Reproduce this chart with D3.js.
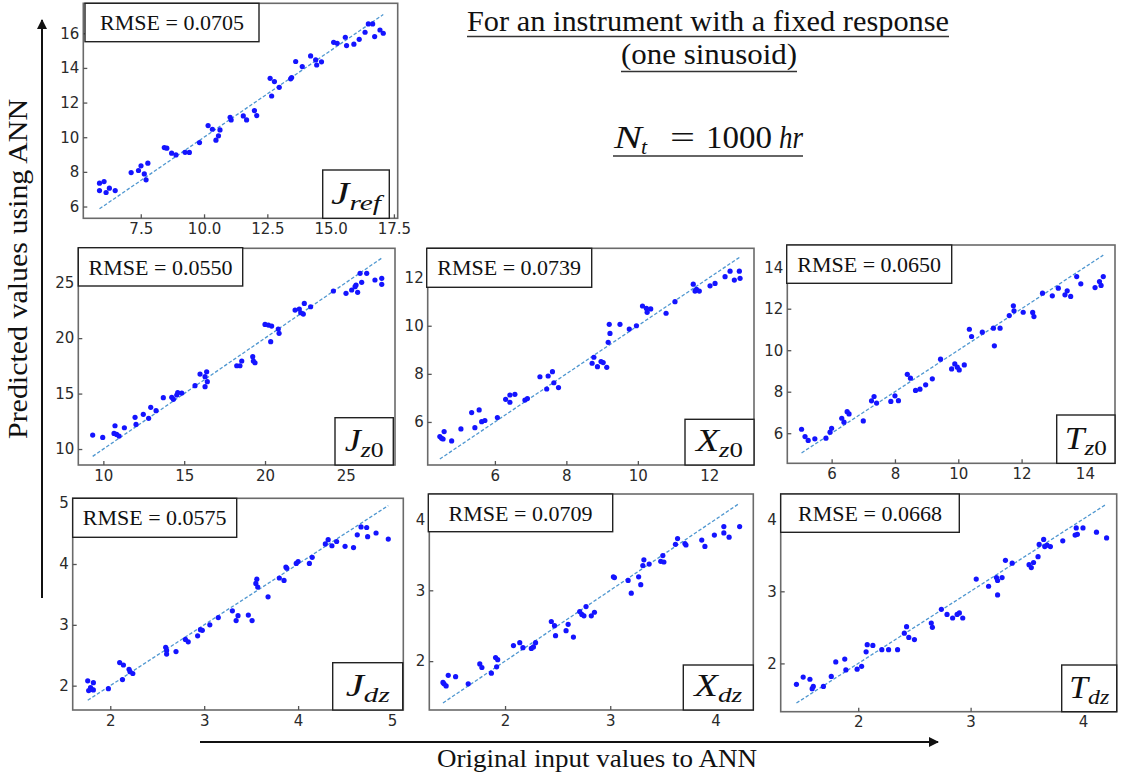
<!DOCTYPE html>
<html><head><meta charset="utf-8">
<script src="https://cdn.jsdelivr.net/npm/d3@7"></script>
<style>body{margin:0;background:#fff} svg{display:block}</style>
</head><body><svg id="c" width="1122" height="779"></svg>
<script>
// ---------- data (original input, predicted) ----------
const jrefPoints = [[5.87,7.35],[5.87,6.92],[6.05,7.44],[6.13,6.81],[6.26,7.06],[6.49,6.92],[7.12,7.96],[7.41,8.08],[7.51,8.35],[7.64,7.88],[7.71,7.54],[7.78,8.5],[8.43,9.4],[8.53,9.37],[8.72,9.08],[8.89,8.98],[9.25,9.13],[9.42,9.12],[9.82,9.69],[10.16,10.67],[10.33,10.46],[10.47,9.83],[10.57,10.08],[10.63,10.42],[11.03,11.15],[11.07,11.0],[11.55,11.23],[11.68,11.0],[11.99,11.54],[12.08,11.25],[12.61,13.4],[12.67,12.38],[12.78,13.21],[12.97,12.88],[13.42,13.37],[13.46,13.44],[13.62,14.37],[13.88,14.08],[14.21,14.69],[14.41,14.46],[14.45,14.17],[14.64,14.35],[15.12,15.48],[15.26,15.42],[15.58,15.77],[15.63,15.29],[15.92,15.37],[16.13,15.65],[16.36,16.06],[16.49,16.54],[16.66,16.54],[16.74,15.81],[16.95,16.19],[17.08,16.0]];
const jz0Points = [[9.34,11.26],[9.96,11.05],[10.72,12.1],[10.66,11.41],[10.82,11.32],[10.97,11.17],[11.3,11.92],[11.96,12.86],[12.02,12.22],[12.47,13.13],[12.8,12.77],[12.93,13.76],[13.26,13.46],[13.71,14.63],[14.23,14.66],[14.33,14.48],[14.54,14.87],[14.6,15.08],[14.85,15.05],[15.67,15.71],[15.98,16.76],[16.29,16.52],[16.39,16.97],[16.43,16.07],[16.29,15.62],[18.25,17.51],[18.45,17.51],[18.56,17.94],[19.24,18.33],[19.28,17.94],[19.38,17.78],[20.0,21.24],[20.21,21.18],[20.41,21.09],[20.35,19.68],[20.82,20.82],[20.87,20.43],[21.86,22.53],[22.12,22.62],[22.21,22.29],[22.37,22.17],[22.43,23.13],[22.82,22.83],[24.23,24.25],[25.01,24.04],[25.36,24.34],[25.57,24.64],[25.63,24.79],[25.73,24.13],[25.88,25.84],[25.98,25.03],[26.29,25.84],[26.8,25.24],[27.22,25.39],[27.22,24.85]];
const xz0Points = [[4.46,5.39],[4.51,5.32],[4.55,5.29],[4.58,5.6],[4.79,5.21],[5.05,5.71],[5.35,6.39],[5.44,5.76],[5.56,6.5],[5.63,6.01],[5.72,6.06],[6.07,6.18],[6.3,6.94],[6.42,6.82],[6.42,7.12],[6.56,7.15],[6.84,6.91],[6.91,6.97],[7.26,7.88],[7.45,7.37],[7.49,7.91],[7.61,8.09],[7.65,7.63],[7.78,7.43],[8.72,8.44],[8.77,8.69],[8.87,8.3],[8.97,8.51],[9.03,8.47],[9.13,8.27],[9.17,9.31],[9.2,10.06],[9.22,9.68],[9.5,10.06],[9.76,9.86],[9.96,10.0],[10.13,10.82],[10.24,10.72],[10.26,10.56],[10.36,10.7],[10.79,10.52],[11.04,11.0],[11.55,11.73],[11.6,11.44],[11.64,11.51],[11.72,11.44],[12.02,11.66],[12.16,11.76],[12.44,12.04],[12.58,12.27],[12.7,11.9],[12.84,12.27],[12.86,11.97]];
const tz0Points = [[5.05,6.19],[5.16,5.84],[5.26,5.65],[5.47,5.73],[5.82,5.76],[5.95,6.05],[6.0,6.24],[6.32,6.72],[6.39,6.53],[6.49,7.04],[6.55,6.93],[7.0,6.59],[7.26,7.56],[7.34,7.77],[7.42,7.45],[7.87,7.53],[8.0,7.8],[8.11,7.57],[8.39,8.84],[8.49,8.65],[8.65,8.06],[8.79,8.12],[8.97,8.33],[9.18,8.62],[9.44,9.57],[9.79,9.1],[9.89,9.34],[9.97,9.18],[10.03,9.05],[10.19,9.29],[10.35,11.01],[10.42,10.66],[10.76,10.87],[11.11,11.06],[11.14,10.21],[11.32,11.06],[11.61,11.67],[11.74,12.14],[11.76,11.9],[12.05,11.83],[12.35,11.82],[12.39,11.62],[12.66,12.75],[12.97,12.62],[13.16,12.99],[13.37,12.67],[13.44,12.86],[13.55,12.59],[13.74,13.55],[13.87,13.2],[14.32,13.02],[14.46,13.31],[14.51,13.12],[14.58,13.55]];
const jdzPoints = [[1.76,2.08],[1.77,1.92],[1.79,1.97],[1.8,1.94],[1.82,2.05],[1.82,1.93],[1.98,1.95],[2.1,2.38],[2.14,2.34],[2.13,2.1],[2.2,2.27],[2.21,2.23],[2.24,2.2],[2.59,2.63],[2.6,2.58],[2.6,2.52],[2.7,2.56],[2.8,2.76],[2.83,2.72],[2.93,2.82],[2.96,2.92],[2.98,2.91],[3.06,3.0],[3.15,3.12],[3.3,3.23],[3.34,3.07],[3.36,3.15],[3.47,3.16],[3.51,3.07],[3.56,3.75],[3.55,3.68],[3.57,3.62],[3.68,3.46],[3.8,3.77],[3.85,3.73],[3.87,3.95],[3.88,3.93],[3.98,4.01],[4.0,4.04],[4.12,4.01],[4.15,4.11],[4.29,4.33],[4.32,4.4],[4.36,4.3],[4.41,4.37],[4.5,4.29],[4.59,4.27],[4.63,4.48],[4.67,4.61],[4.73,4.6],[4.74,4.45],[4.83,4.51],[4.96,4.41]];
const xdzPoints = [[1.41,1.7],[1.42,1.68],[1.44,1.65],[1.46,1.8],[1.53,1.78],[1.65,1.68],[1.76,1.96],[1.78,1.91],[1.87,1.83],[1.91,2.05],[1.93,2.02],[1.92,1.92],[2.08,2.22],[2.14,2.26],[2.17,2.19],[2.25,2.18],[2.27,2.2],[2.29,2.26],[2.44,2.56],[2.47,2.5],[2.48,2.36],[2.58,2.43],[2.6,2.52],[2.65,2.34],[2.71,2.7],[2.73,2.66],[2.75,2.64],[2.77,2.77],[2.82,2.64],[2.85,2.69],[3.03,3.19],[3.04,3.18],[3.17,3.14],[3.2,2.96],[3.27,3.19],[3.29,3.08],[3.31,3.35],[3.32,3.43],[3.37,3.37],[3.48,3.41],[3.5,3.49],[3.51,3.4],[3.62,3.65],[3.64,3.73],[3.71,3.66],[3.72,3.64],[3.87,3.71],[3.9,3.62],[3.99,3.78],[4.08,3.9],[4.08,3.81],[4.13,3.75],[4.23,3.9]];
const tdzPoints = [[1.45,1.71],[1.51,1.81],[1.57,1.78],[1.59,1.65],[1.6,1.68],[1.69,1.68],[1.76,1.82],[1.8,2.02],[1.88,2.06],[1.89,1.91],[1.99,1.92],[2.03,1.96],[2.07,2.16],[2.08,2.26],[2.13,2.25],[2.21,2.19],[2.27,2.19],[2.35,2.19],[2.41,2.42],[2.43,2.51],[2.45,2.36],[2.5,2.33],[2.65,2.56],[2.66,2.5],[2.74,2.75],[2.79,2.68],[2.84,2.63],[2.88,2.68],[2.9,2.7],[2.93,2.63],[3.05,3.17],[3.16,3.07],[3.23,3.19],[3.24,3.15],[3.24,2.95],[3.28,3.19],[3.31,3.43],[3.37,3.39],[3.52,3.37],[3.54,3.33],[3.56,3.4],[3.6,3.48],[3.61,3.65],[3.65,3.72],[3.66,3.62],[3.68,3.64],[3.71,3.62],[3.82,3.7],[3.93,3.78],[3.94,3.88],[3.95,3.79],[4.0,3.88],[4.12,3.82],[4.21,3.74]];

const rmseValues = ["0.0705","0.0550","0.0739","0.0650","0.0575","0.0709","0.0668"];
const panelMain = ["J","J","X","T","J","X","T"];
const panelSub  = [[["ref",true]],[["z",true],["0",false]],[["z",true],["0",false]],[["z",true],["0",false]],[["dz",true]],[["dz",true]],[["dz",true]]];

const jrefXTicks = [7.5,10,12.5,15,17.5], jrefXLabels = ["7.5","10.0","12.5","15.0","17.5"];
const jrefYTicks = [6,8,10,12,14,16];
const jz0XTicks = [10,15,20,25], jz0YTicks = [10,15,20,25];
const xz0XTicks = [6,8,10,12], xz0YTicks = [6,8,10,12];
const tz0XTicks = [6,8,10,12,14], tz0YTicks = [6,8,10,12,14];
const jdzXTicks = [2,3,4,5], jdzYTicks = [2,3,4,5];
const xdzXTicks = [2,3,4], xdzYTicks = [2,3,4];
const tdzXTicks = [2,3,4], tdzYTicks = [2,3,4];

const titleLine1 = "For an instrument with a fixed response";
const titleLine2 = "(one sinusoid)";
const ntParts = ["N", "t", "=", "1000", "hr"];
const yTitle = "Predicted values using ANN";
const xTitle = "Original input values to ANN";

// ---------- layout ----------
const panels = [
  {pts:jrefPoints, xt:jrefXTicks, xl:jrefXLabels, yt:jrefYTicks, f:[83.3,3.3,397.7,218.3], xd:[5.23,17.65], yd:[5.32,17.73], rb:[85,3.3,174,38.4], lb:[322.7,170,66.6,48.3], lw:50},
  {pts:jz0Points, xt:jz0XTicks, yt:jz0YTicks, f:[78.3,248.3,395,465], xd:[8.45,28.04], yd:[8.56,28.1], rb:[78.3,247.7,164.4,38.3], lb:[335,417.7,58.3,47.3], lw:39},
  {pts:xz0Points, xt:xz0XTicks, yt:xz0YTicks, f:[427.7,248.3,754,465], xd:[4.12,13.25], yd:[4.21,13.22], rb:[426.7,248.3,165,39], lb:[685,419.3,69,45.7], lw:47},
  {pts:tz0Points, xt:tz0XTicks, yt:tz0YTicks, f:[787.3,245,1115,463.3], xd:[4.6,14.95], yd:[4.55,15.07], rb:[786.7,245,165,38.3], lb:[1056.7,415,58.3,48.3], lw:42},
  {pts:jdzPoints, xt:jdzXTicks, yt:jdzYTicks, f:[72.7,498.3,403.3,710], xd:[1.6,5.12], yd:[1.6,5.08], rb:[72.7,498.3,164,39], lb:[332.7,662.7,70,47.3], lw:44},
  {pts:xdzPoints, xt:xdzXTicks, yt:xdzYTicks, f:[429.3,494,753.3,710], xd:[1.28,4.36], yd:[1.31,4.36], rb:[428.3,494,184.4,37.7], lb:[683.3,665,70,45], lw:48},
  {pts:tdzPoints, xt:tdzXTicks, yt:tdzYTicks, f:[780.7,494,1116.7,711.7], xd:[1.31,4.3], yd:[1.33,4.35], rb:[780.7,494,178.6,38.3], lb:[1061.7,665,55,46.7], lw:40}
];

const svg = d3.select("#c");
const serif = "'Liberation Serif','Times New Roman',serif";
const sans = "'DejaVu Sans',sans-serif";

panels.forEach((p, i) => {
  const [l,t,r,b] = p.f;
  const x = d3.scaleLinear().domain(p.xd).range([l, r]);
  const y = d3.scaleLinear().domain(p.yd).range([b, t]);
  const g = svg.append("g");

  // frame
  g.append("rect").attr("x", l).attr("y", t).attr("width", r - l).attr("height", b - t)
    .attr("fill", "#fff").attr("stroke", "#6a6a6a").attr("stroke-width", 1.6);

  // axes
  const xa = g.append("g").attr("transform", `translate(0,${b})`)
    .call(d3.axisBottom(x).tickValues(p.xt).tickSize(-4).tickPadding(5)
      .tickFormat((d, k) => p.xl ? p.xl[k] : d3.format("d")(d)));
  const ya = g.append("g").attr("transform", `translate(${l},0)`)
    .call(d3.axisLeft(y).tickValues(p.yt).tickSize(-4).tickPadding(4).tickFormat(d3.format("d")));
  [xa, ya].forEach(a => {
    a.select(".domain").remove();
    a.selectAll(".tick line").attr("stroke", "#555").attr("stroke-width", 1.3);
    a.selectAll(".tick text").attr("fill", "#2a2a2a").style("font-family", sans).style("font-size", "15px");
  });

  // y = x reference line
  const ext = d3.extent(p.pts, d => d[0]);
  g.append("path").datum([[ext[0], ext[0]], [ext[1], ext[1]]])
    .attr("d", d3.line().x(d => x(d[0])).y(d => y(d[1])))
    .attr("stroke", "#4f97d0").attr("stroke-width", 1.3).attr("stroke-dasharray", "3.5,2").attr("fill", "none");

  // points
  g.selectAll("circle.pt").data(p.pts).join("circle").attr("class", "pt")
    .attr("cx", d => x(d[0])).attr("cy", d => y(d[1])).attr("r", 2.6).attr("fill", "#1414ff");

  // RMSE box
  const [rx, ry, rw, rh] = p.rb;
  g.append("rect").attr("x", rx).attr("y", ry).attr("width", rw).attr("height", rh)
    .attr("fill", "#fff").attr("stroke", "#222").attr("stroke-width", 1.4);
  g.append("text").attr("x", rx + rw / 2).attr("y", ry + 27).attr("text-anchor", "middle")
    .style("font-family", serif).style("font-size", "22px").attr("fill", "#111")
    .text("RMSE = " + rmseValues[i]);

  // label box
  const [bx, by, bw, bh] = p.lb;
  g.append("rect").attr("x", bx).attr("y", by).attr("width", bw).attr("height", bh)
    .attr("fill", "#fff").attr("stroke", "#222").attr("stroke-width", 1.4);
  const lt = g.append("text").attr("x", bx + bw / 2).attr("y", by + bh - 14).attr("text-anchor", "middle")
    .style("font-family", serif).attr("fill", "#111")
    .attr("textLength", p.lw).attr("lengthAdjust", "spacingAndGlyphs");
  lt.append("tspan").style("font-style", "italic").style("font-size", "31px").text(panelMain[i]);
  panelSub[i].forEach((s, k) => {
    lt.append("tspan").attr("dy", k === 0 ? 6 : 0).style("font-style", s[1] ? "italic" : "normal")
      .style("font-size", "22px").text(s[0]);
  });
});

// ---------- titles ----------
function underlined(txt, cx, by, size, len, uy) {
  svg.append("text").attr("x", cx).attr("y", by).attr("text-anchor", "middle")
    .style("font-family", serif).style("font-size", size + "px").attr("fill", "#111")
    .attr("textLength", len).attr("lengthAdjust", "spacingAndGlyphs").text(txt);
  svg.append("line").attr("x1", cx - len / 2).attr("x2", cx + len / 2).attr("y1", uy).attr("y2", uy)
    .attr("stroke", "#333").attr("stroke-width", 1.3);
}
underlined(titleLine1, 708, 31, 29, 482, 36.5);
underlined(titleLine2, 709, 64, 29, 176, 71.5);

// N_t = 1000 hr  (math-style pieces)
const ntg = svg.append("g").style("font-family", serif).attr("fill", "#111");
ntg.append("text").attr("x", 614).attr("y", 148).style("font-size", "32px").style("font-style", "italic")
  .attr("textLength", 28).attr("lengthAdjust", "spacingAndGlyphs").text(ntParts[0]);
ntg.append("text").attr("x", 641).attr("y", 154).style("font-size", "22px").style("font-style", "italic").text(ntParts[1]);
ntg.append("text").attr("x", 670).attr("y", 148).style("font-size", "32px")
  .attr("textLength", 25).attr("lengthAdjust", "spacingAndGlyphs").text(ntParts[2]);
ntg.append("text").attr("x", 706).attr("y", 148).style("font-size", "32px")
  .attr("textLength", 66).attr("lengthAdjust", "spacingAndGlyphs").text(ntParts[3]);
ntg.append("text").attr("x", 779).attr("y", 148).style("font-size", "31px").style("font-style", "italic")
  .attr("textLength", 24).attr("lengthAdjust", "spacingAndGlyphs").text(ntParts[4]);
svg.append("line").attr("x1", 613).attr("x2", 803).attr("y1", 156).attr("y2", 156)
  .attr("stroke", "#333").attr("stroke-width", 1.3);

// ---------- axis titles with arrows ----------
const defs = svg.append("defs");
defs.append("marker").attr("id", "ah").attr("viewBox", "0 0 10 10").attr("refX", 9).attr("refY", 5)
  .attr("markerWidth", 5).attr("markerHeight", 5).attr("orient", "auto")
  .append("path").attr("d", "M0,0 L10,5 L0,10 Z").attr("fill", "#111");

svg.append("line").attr("x1", 42).attr("y1", 598).attr("x2", 42).attr("y2", 20)
  .attr("stroke", "#111").attr("stroke-width", 2).attr("marker-end", "url(#ah)");
svg.append("text").attr("transform", "translate(27,269) rotate(-90)").attr("text-anchor", "middle")
  .style("font-family", serif).style("font-size", "27px").attr("fill", "#111")
  .attr("textLength", 340).attr("lengthAdjust", "spacingAndGlyphs").text(yTitle);

svg.append("line").attr("x1", 200).attr("y1", 742).attr("x2", 938).attr("y2", 742)
  .attr("stroke", "#111").attr("stroke-width", 2).attr("marker-end", "url(#ah)");
svg.append("text").attr("x", 597).attr("y", 767).attr("text-anchor", "middle")
  .style("font-family", serif).style("font-size", "26px").attr("fill", "#111")
  .attr("textLength", 320).attr("lengthAdjust", "spacingAndGlyphs").text(xTitle);
</script></body></html>
